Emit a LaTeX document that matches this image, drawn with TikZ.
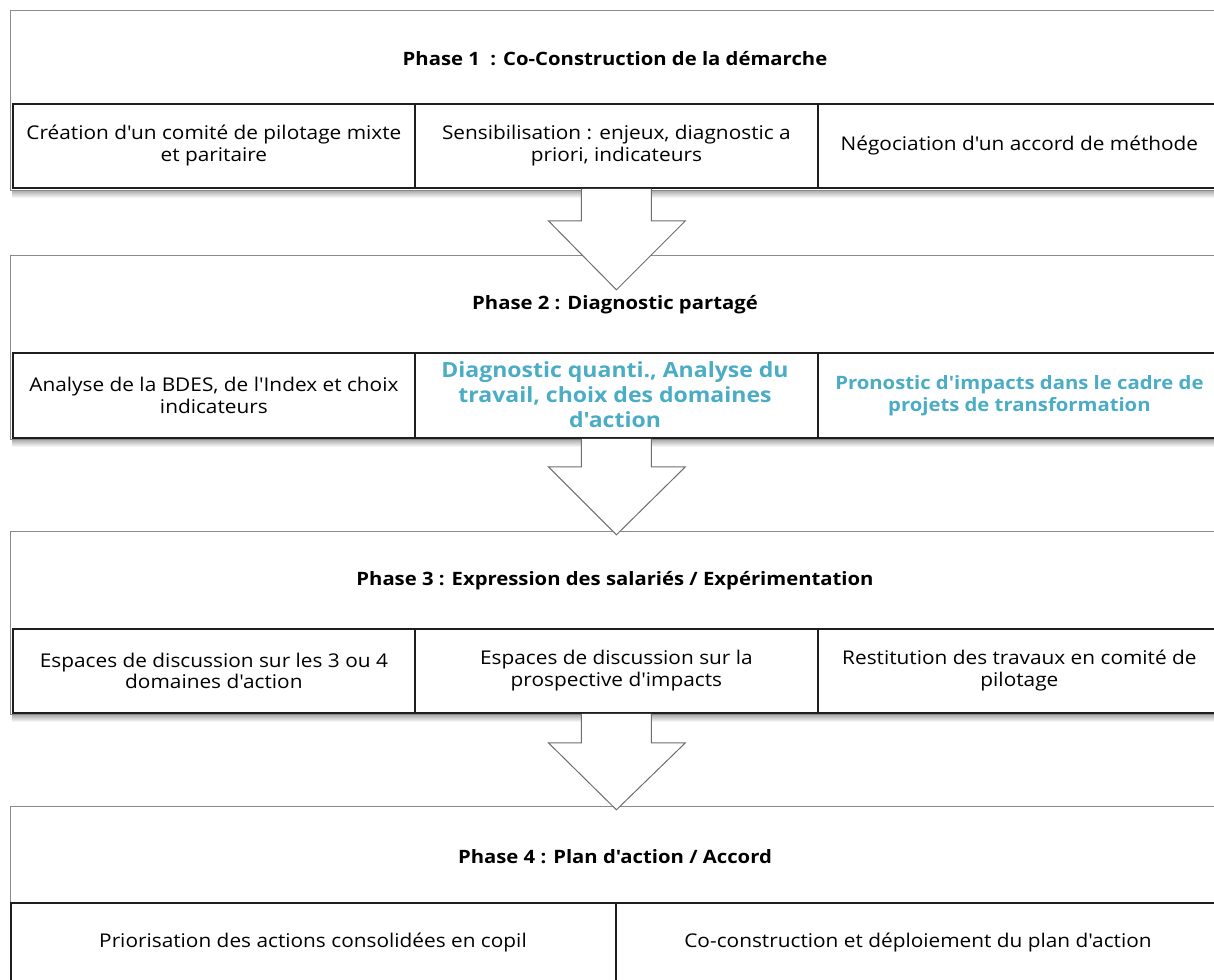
\documentclass[tikz,border=0pt]{standalone}
\usepackage{fontspec}
\setmainfont[FakeStretch=1.1, Ligatures=TeXOff]{Open Sans}
\usetikzlibrary{calc}
\definecolor{aqua}{HTML}{4BACC6}
\definecolor{outerline}{HTML}{8A8A8A}
\definecolor{rowline}{HTML}{1E1E1E}
\definecolor{arrline}{HTML}{6E6E6E}
\tikzset{
 outerbox/.style={draw=outerline, line width=1.3bp, fill=white, inner sep=0pt, anchor=north west},
 cell/.style={draw=rowline, line width=1.8bp, inner sep=0pt, anchor=north west, align=center,
   minimum height=84bp, font=\fontsize{19}{22}\selectfont},
 hdr/.style={font=\fontsize{18.5}{20}\selectfont\bfseries},
 bluetxt/.style={text=aqua, font=\fontsize{18.5}{22}\selectfont\bfseries},
 bluebig/.style={text=aqua, font=\fontsize{21}{25}\selectfont\bfseries},
 plain/.style={font=\fontsize{19}{22}\selectfont},
 blockarrow/.style={draw=arrline, line width=1bp, fill=white, line join=miter},
 softshadow/.style={top color=black!40, bottom color=white, draw=none},
}
\begin{document}
\begin{tikzpicture}[x=1bp,y=-1bp]
\useasboundingbox (0,0) rectangle (1214,980);

% ---------- Phase 1 ----------
\shade[softshadow] (12,189) rectangle (1214,198);
\node[outerbox, minimum width=1210bp, minimum height=180bp] (p1) at (10,10) {};
\node[hdr] (h1) at (615,59) {Phase 1\ \ : Co-Construction de la démarche};
\node[cell, minimum width=402bp] (c11) at (12,103) {Création d'un comité de pilotage mixte\\et paritaire};
\node[cell, minimum width=403bp] (c12) at (414,103) {Sensibilisation : enjeux, diagnostic a\\priori, indicateurs};
\node[cell, minimum width=403bp] (c13) at (817,103) {Négociation d'un accord de méthode};

% ---------- Phase 2 ----------
\shade[softshadow] (12,438) rectangle (1214,447);
\node[outerbox, minimum width=1210bp, minimum height=184bp] (p2) at (10,255) {};
\node[hdr] (h2) at (615,305) {Phase 2 : Diagnostic partagé};
\node[cell, minimum width=402bp, minimum height=85bp] (c21) at (12,352) {Analyse de la BDES, de l'Index et choix\\indicateurs};
\node[cell, minimum width=403bp, minimum height=85bp] (c22) at (414,352) {};
\node[bluebig, align=center] (t22) at (615,395) {Diagnostic quanti., Analyse du\\travail, choix des domaines\\d'action};
\node[cell, minimum width=403bp, minimum height=85bp, bluetxt] (c23) at (817,352) {Pronostic d'impacts dans le cadre de\\projets de transformation};

% ---------- Phase 3 ----------
\shade[softshadow] (12,713) rectangle (1214,722);
\node[outerbox, minimum width=1210bp, minimum height=183bp] (p3) at (10,531) {};
\node[hdr] (h3) at (615,581) {Phase 3 : Expression des salariés / Expérimentation};
\node[cell, minimum width=402bp] (c31) at (12,628) {Espaces de discussion sur les 3 ou 4\\domaines d'action};
\node[cell, minimum width=403bp] (c32) at (414,628) {Espaces de discussion sur la\\prospective d'impacts};
\node[cell, minimum width=403bp] (c33) at (817,628) {Restitution des travaux en comité de\\pilotage};

% ---------- Phase 4 ----------
\node[outerbox, minimum width=1210bp, minimum height=200bp] (p4) at (10,806) {};
\node[hdr] (h4) at (615,857) {Phase 4 : Plan d'action / Accord};
\node[cell, minimum width=605bp, minimum height=100bp] (c41) at (10,902) {};
\node[cell, minimum width=605bp, minimum height=100bp] (c42) at (615,902) {};
\node[plain] (t41) at (313,943) {Priorisation des actions consolidées en copil};
\node[plain] (t42) at (918,943) {Co-construction et déploiement du plan d'action};

% ---------- Block arrows ----------
\draw[blockarrow] ($(c12.south)+(-35,0)$) -- ++(0,32) -- ++(-33,0) -- ($(c12.south)+(0,101)$) -- ($(c12.south)+(69,32)$) -- ++(-34,0) -- ($(c12.south)+(35,0)$);
\draw[blockarrow] ($(c22.south)+(-35,0)$) -- ++(0,28) -- ++(-33,0) -- ($(c22.south)+(0,96)$) -- ($(c22.south)+(69,28)$) -- ++(-34,0) -- ($(c22.south)+(35,0)$);
\draw[blockarrow] ($(c32.south)+(-35,0)$) -- ++(0,29) -- ++(-33,0) -- ($(c32.south)+(0,96)$) -- ($(c32.south)+(69,29)$) -- ++(-34,0) -- ($(c32.south)+(35,0)$);
\end{tikzpicture}
\end{document}
